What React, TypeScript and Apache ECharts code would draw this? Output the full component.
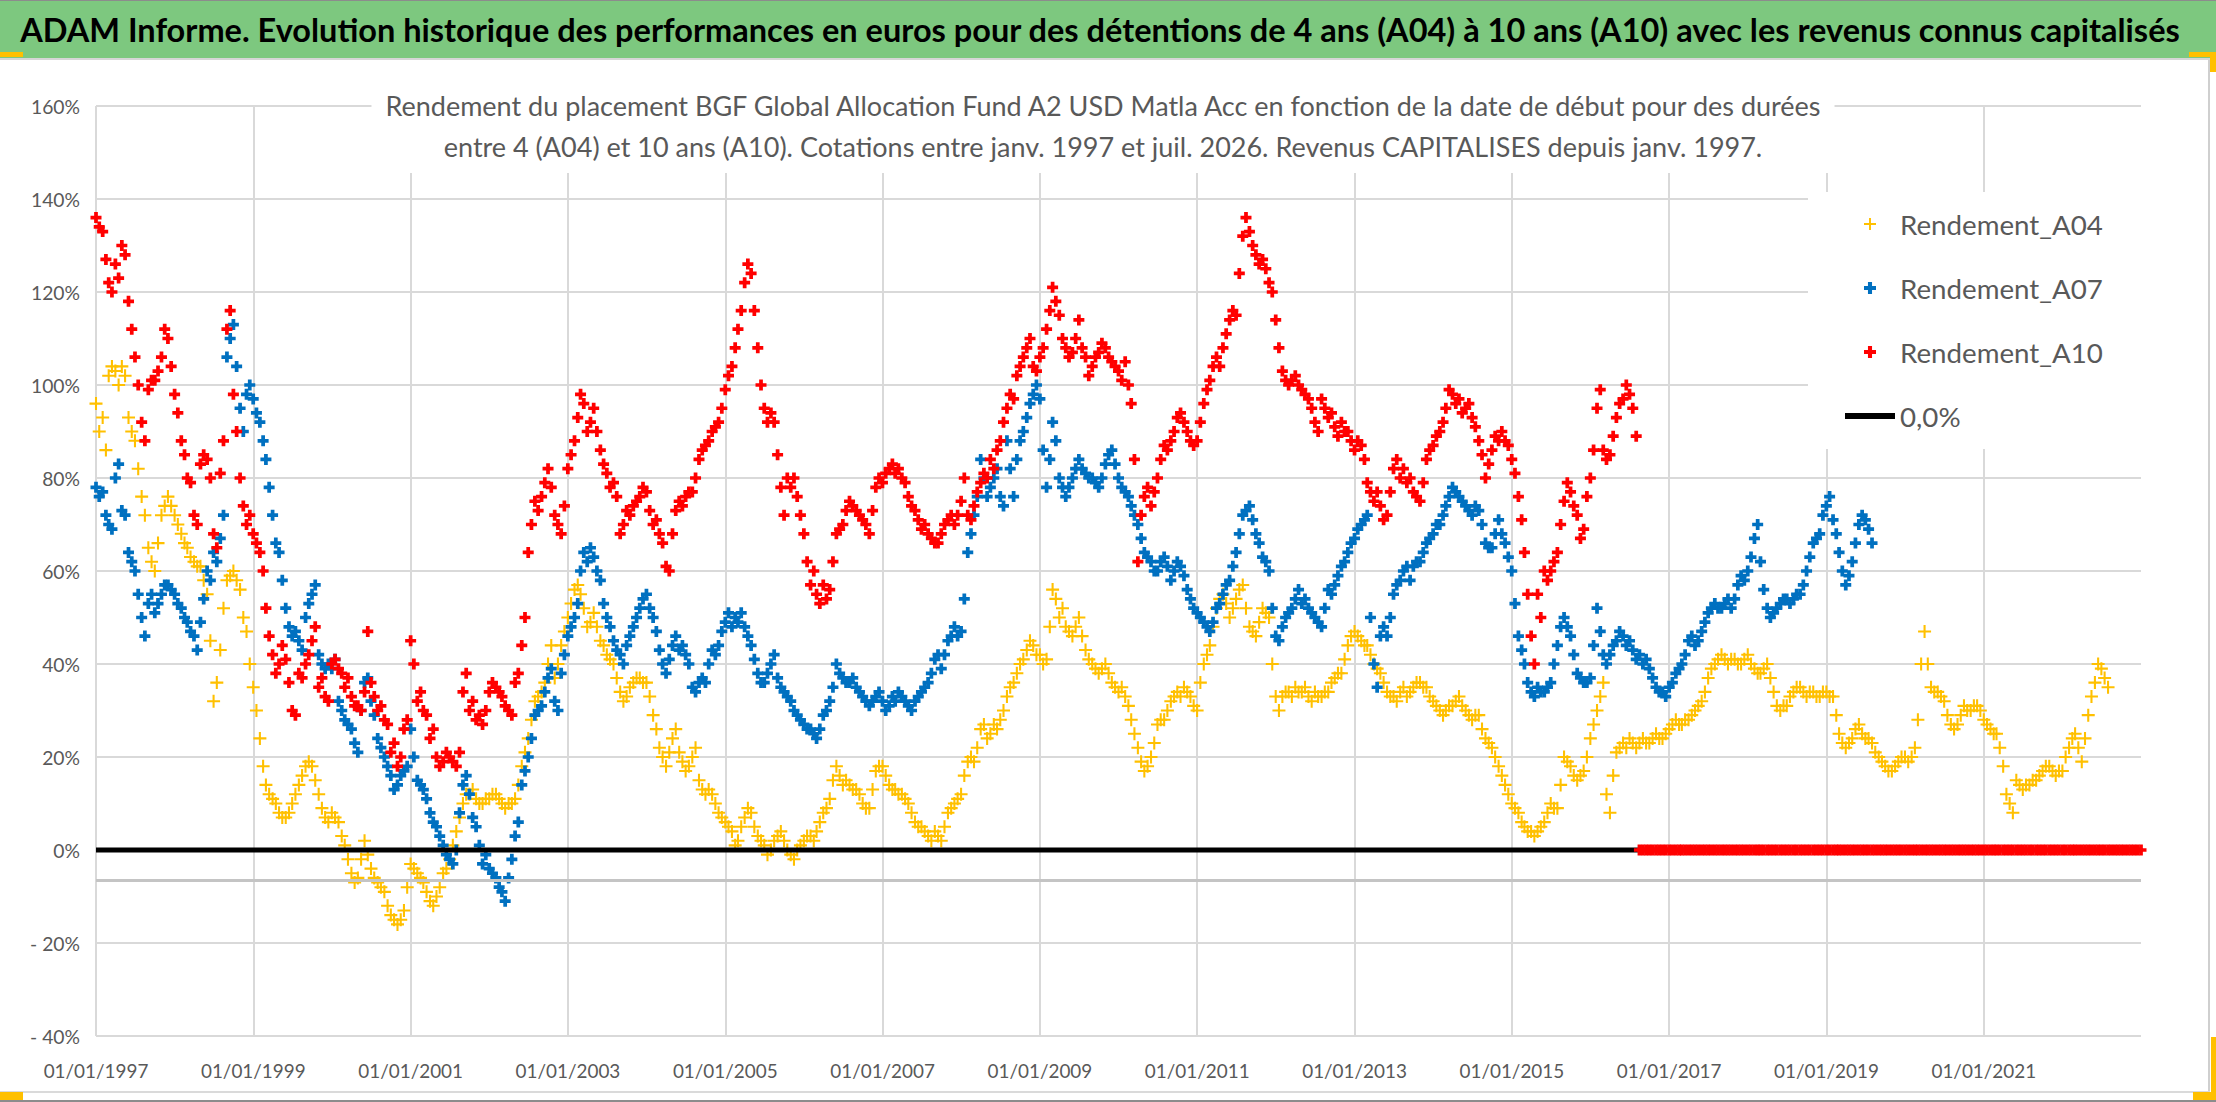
import { useEffect, useRef } from "react";
import * as echarts from "echarts";

const TITLE =
  "ADAM Informe. Evolution historique des performances en euros pour des détentions de 4 ans (A04) à 10 ans (A10) avec les revenus connus capitalisés";
const SUBTITLE_1 =
  "Rendement du placement BGF Global Allocation Fund A2 USD Matla Acc en fonction de la date de début pour des durées";
const SUBTITLE_2 =
  "entre 4 (A04) et 10 ans (A10). Cotations entre janv. 1997 et juil. 2026. Revenus CAPITALISES depuis janv. 1997.";

const NAMES = ["Rendement_A04", "Rendement_A07", "Rendement_A10", "0,0%"];
const COLORS = ["#ffc000", "#0070c0", "#ff0000", "#000000"];

// rendement (%) pour une date de début le 1er et le 16 de chaque mois, à partir de janv. 1997
const A04 = [
  96, 90, 93, 86, 102, 104, 103, 100, 104, 102, 93, 90, 88, 82, 76, 72, 65, 62, 60, 66, 72, 74, 76, 74, // 1997
  72, 70, 68, 66, 65, 63, 62, 61, 61, 58, 55, 45, 32, 36, 43, 52, 58, 59, 60, 58, 56, 50, 47, 40, // 1998
  35, 30, 24, 18, 14, 12, 11, 10, 8, 7, 7, 8, 10, 12, 14, 16, 18, 19, 18, 15, 12, 9, 7, 6, // 1999
  8, 7, 6, 3, 1, -2, -5, -7, -6, -2, 2, -1, -4, -6, -7, -8, -9, -12, -14, -15, -16, -15, -13, -8, // 2000
  -3, -4, -5, -6, -7, -9, -11, -12, -10, -8, -5, -4, -2, 1, 4, 7, 10, 12, 12, 13, 11, 10, 10, 11, // 2001
  11, 12, 12, 11, 10, 9, 10, 10, 11, 14, 18, 21, 24, 28, 32, 33, 34, 36, 40, 44, 37, 40, 44, 47, // 2002
  50, 53, 56, 57, 55, 52, 48, 49, 51, 48, 45, 44, 42, 41, 40, 37, 34, 32, 33, 35, 36, 37, 37, 36, // 2003
  36, 33, 29, 26, 22, 20, 18, 21, 24, 26, 21, 19, 17, 18, 20, 22, 15, 13, 12, 13, 12, 10, 8, 7, // 2004
  6, 5, 4, 1, 2, 5, 7, 9, 8, 5, 3, 2, 1, -1, 0, 2, 3, 4, 2, 0, -1, -2, 0, 1, // 2005
  2, 3, 3, 2, 4, 6, 8, 9, 11, 15, 18, 16, 14, 15, 14, 13, 13, 12, 10, 9, 9, 13, 17, 18, // 2006
  18, 16, 14, 13, 13, 12, 12, 11, 10, 8, 6, 5, 5, 4, 3, 2, 4, 3, 2, 5, 8, 9, 10, 11, // 2007
  12, 16, 19, 20, 19, 22, 26, 27, 24, 25, 27, 26, 28, 30, 33, 35, 36, 38, 40, 41, 43, 45, 44, 42, // 2008
  42, 40, 41, 48, 56, 54, 50, 52, 48, 47, 46, 48, 50, 46, 43, 41, 40, 39, 38, 39, 40, 38, 36, 35, // 2009
  34, 35, 33, 31, 28, 25, 22, 19, 17, 18, 20, 23, 27, 28, 28, 30, 32, 33, 34, 33, 35, 34, 33, 31, // 2010
  30, 36, 40, 42, 44, 48, 52, 54, 55, 53, 50, 52, 54, 56, 57, 52, 48, 47, 46, 49, 52, 51, 50, 40, // 2011
  33, 30, 33, 34, 34, 33, 35, 34, 34, 35, 33, 32, 34, 33, 33, 34, 34, 36, 37, 38, 38, 41, 44, 46, // 2012
  47, 46, 45, 44, 44, 42, 40, 39, 38, 36, 34, 33, 33, 32, 34, 35, 33, 34, 35, 36, 36, 35, 35, 33, // 2013
  32, 31, 30, 29, 30, 31, 31, 32, 33, 31, 30, 29, 28, 29, 29, 26, 24, 23, 22, 20, 18, 16, 14, 12, // 2014
  10, 9, 8, 6, 5, 4, 4, 3, 4, 5, 6, 8, 10, 9, 9, 14, 20, 19, 18, 16, 15, 16, 17, 20, // 2015
  24, 27, 30, 33, 36, 12, 8, 16, 21, 22, 23, 22, 24, 23, 22, 23, 24, 23, 23, 24, 25, 24, 24, 25, // 2016
  26, 27, 28, 27, 27, 28, 28, 29, 30, 31, 32, 34, 37, 39, 40, 41, 42, 41, 40, 41, 41, 40, 40, 41, // 2017
  42, 40, 39, 38, 38, 39, 40, 37, 34, 31, 30, 31, 31, 33, 34, 35, 35, 34, 33, 34, 34, 33, 33, 34, // 2018
  34, 33, 33, 29, 25, 23, 22, 23, 24, 26, 27, 25, 24, 24, 23, 21, 20, 19, 18, 17, 17, 18, 19, 20, // 2019
  20, 19, 20, 22, 28, 40, 47, 40, 35, 34, 34, 33, 32, 29, 27, 26, 27, 29, 31, 30, 30, 31, 31, 30, // 2020
  28, 27, 26, 25, 25, 22, 18, 12, 10, 8, 15, 14, 13, 14, 14, 15, 15, 16, 17, 18, 18, 17, 16, 17, // 2021
  17, 20, 22, 24, 25, 22, 19, 24, 29, 33, 36, 40, 39, 37, 35, // 2022
];

const A07 = [
  78, 76, 77, 72, 70, 69, 80, 83, 73, 72, 64, 62, 60, 55, 50, 46, 53, 55, 51, 53, 55, 57, 57, 56, // 1997
  55, 53, 52, 50, 49, 47, 46, 43, 49, 54, 60, 58, 64, 62, 67, 72, 106, 110, 113, 104, 95, 90, 98, 100, // 1998
  97, 94, 92, 88, 84, 78, 72, 66, 64, 58, 52, 48, 46, 47, 45, 43, 50, 53, 55, 57, 42, 40, 39, 40, // 1999
  39, 41, 32, 30, 28, 27, 26, 23, 21, 30, 36, 37, 32, 29, 24, 22, 20, 18, 16, 13, 14, 16, 17, 18, // 2000
  26, 20, 15, 14, 13, 11, 8, 6, 5, 3, 1, -1, -2, -3, 0, 8, 14, 16, 12, 7, 5, 1, -3, -1, // 2001
  -4, -5, -6, -8, -9, -11, -6, -2, 3, 6, 14, 17, 20, 24, 29, 30, 31, 34, 37, 39, 32, 30, 38, 42, // 2002
  46, 48, 50, 53, 60, 64, 62, 65, 63, 60, 58, 53, 50, 48, 45, 43, 42, 40, 44, 46, 48, 50, 52, 54, // 2003
  55, 52, 50, 47, 43, 40, 38, 41, 44, 46, 43, 44, 42, 40, 35, 34, 36, 37, 36, 40, 43, 42, 44, 47, // 2004
  49, 51, 48, 50, 49, 51, 48, 46, 44, 41, 38, 36, 36, 38, 40, 42, 37, 35, 34, 33, 32, 30, 29, 28, // 2005
  27, 26, 26, 25, 24, 26, 29, 30, 32, 35, 40, 38, 37, 36, 36, 37, 35, 34, 33, 32, 31, 32, 33, 34, // 2006
  32, 30, 31, 33, 32, 34, 33, 32, 31, 30, 32, 33, 34, 35, 36, 38, 41, 42, 39, 42, 45, 46, 48, 46, // 2007
  47, 54, 64, 68, 72, 76, 84, 80, 76, 78, 80, 82, 76, 74, 88, 82, 76, 84, 88, 90, 93, 96, 98, 100, // 2008
  97, 86, 78, 84, 92, 88, 80, 78, 76, 78, 80, 82, 84, 82, 81, 80, 80, 79, 78, 80, 83, 85, 86, 83, // 2009
  80, 78, 77, 76, 74, 72, 70, 67, 64, 63, 62, 60, 60, 62, 63, 61, 58, 60, 62, 61, 59, 56, 54, 52, // 2010
  51, 50, 49, 48, 47, 49, 52, 53, 55, 57, 58, 61, 64, 68, 72, 73, 74, 71, 68, 66, 63, 62, 60, 52, // 2011
  46, 45, 48, 50, 51, 52, 54, 56, 53, 54, 52, 51, 50, 49, 48, 52, 56, 55, 57, 59, 61, 62, 64, 66, // 2012
  67, 69, 70, 71, 72, 50, 40, 35, 46, 48, 46, 50, 55, 57, 58, 60, 61, 58, 61, 62, 62, 64, 66, 67, // 2013
  68, 70, 70, 72, 74, 76, 78, 77, 76, 75, 74, 73, 72, 74, 73, 70, 66, 65, 65, 68, 71, 68, 66, 63, // 2014
  60, 53, 46, 43, 40, 36, 34, 33, 35, 34, 34, 35, 36, 40, 44, 48, 50, 48, 46, 42, 38, 37, 36, 36, // 2015
  37, 44, 52, 47, 42, 40, 42, 44, 45, 47, 46, 44, 45, 43, 41, 42, 40, 41, 39, 37, 35, 34, 34, 33, // 2016
  35, 36, 38, 39, 40, 42, 45, 46, 44, 45, 47, 49, 51, 52, 53, 52, 52, 53, 54, 52, 54, 57, 59, 58, // 2017
  60, 63, 67, 70, 62, 56, 52, 50, 51, 52, 53, 54, 54, 53, 54, 55, 55, 57, 60, 63, 66, 67, 68, 72, // 2018
  74, 76, 71, 68, 64, 60, 57, 59, 62, 66, 70, 72, 71, 69, 66, // 2019
];

const A10 = [
  136, 134, 133, 127, 122, 120, 126, 123, 130, 128, 118, 112, 106, 100, 92, 88, 99, 101, 101, 103, 106, 112, 110, 104, // 1997
  98, 94, 88, 85, 80, 79, 72, 70, 83, 85, 84, 80, 68, 65, 81, 88, 112, 116, 98, 90, 80, 74, 70, 72, // 1998
  68, 66, 64, 60, 52, 46, 42, 38, 40, 44, 41, 36, 30, 29, 38, 37, 40, 42, 45, 48, 35, 37, 33, 32, // 1999
  40, 41, 39, 38, 35, 37, 33, 31, 31, 30, 34, 47, 36, 33, 30, 31, 28, 27, 21, 23, 18, 20, 26, 28, // 2000
  45, 40, 32, 34, 30, 29, 24, 26, 20, 18, 19, 21, 20, 19, 18, 21, 34, 38, 30, 32, 28, 29, 27, 30, // 2001
  34, 36, 35, 34, 33, 31, 30, 29, 36, 38, 44, 50, 64, 70, 75, 73, 76, 79, 82, 78, 72, 70, 68, 74, // 2002
  82, 85, 88, 93, 98, 96, 90, 92, 95, 90, 86, 83, 81, 78, 79, 76, 68, 70, 73, 72, 74, 75, 76, 78, // 2003
  77, 73, 70, 71, 68, 66, 61, 60, 68, 73, 75, 74, 76, 77, 77, 80, 84, 86, 87, 88, 90, 91, 92, 95, // 2004
  99, 102, 104, 108, 112, 116, 122, 126, 124, 116, 108, 100, 95, 92, 94, 92, 85, 78, 72, 80, 78, 80, 76, 72, // 2005
  68, 62, 57, 60, 55, 53, 57, 54, 56, 62, 68, 69, 70, 73, 75, 74, 73, 72, 71, 70, 68, 73, 78, 80, // 2006
  79, 81, 82, 83, 81, 82, 80, 79, 76, 74, 73, 71, 69, 70, 68, 67, 66, 66, 68, 70, 71, 72, 70, 72, // 2007
  75, 80, 72, 71, 74, 77, 79, 81, 80, 84, 82, 86, 88, 92, 95, 98, 97, 102, 104, 106, 108, 110, 104, 103, // 2008
  106, 108, 112, 116, 121, 118, 115, 110, 108, 106, 107, 110, 114, 108, 106, 102, 104, 106, 107, 109, 108, 106, 105, 104, // 2009
  103, 101, 105, 100, 96, 84, 62, 72, 76, 78, 74, 77, 80, 84, 87, 86, 88, 90, 93, 94, 92, 90, 88, 87, // 2010
  88, 92, 96, 99, 101, 104, 106, 104, 108, 111, 114, 116, 115, 124, 132, 136, 133, 130, 128, 126, 127, 125, 122, 120, // 2011
  114, 108, 103, 101, 100, 101, 102, 100, 99, 98, 97, 95, 92, 90, 97, 95, 93, 94, 91, 89, 92, 90, 90, 88, // 2012
  86, 88, 87, 84, 79, 77, 75, 77, 74, 71, 72, 77, 82, 84, 80, 82, 79, 80, 77, 76, 75, 79, 84, 86, // 2013
  87, 89, 90, 92, 95, 99, 98, 96, 97, 94, 95, 96, 93, 91, 88, 85, 80, 83, 86, 89, 88, 90, 88, 87, // 2014
  84, 81, 76, 71, 64, 55, 46, 40, 55, 50, 60, 58, 60, 62, 64, 70, 75, 79, 77, 74, 72, 67, 69, 76, // 2015
  80, 86, 95, 99, 86, 84, 85, 89, 93, 96, 97, 100, 98, 95, 89, 0, 0, 0, 0, 0, 0, 0, 0, 0, // 2016
  0, 0, 0, 0, 0, 0, 0, 0, 0, 0, 0, 0, 0, 0, 0, 0, 0, 0, 0, 0, 0, 0, 0, 0, // 2017
  0, 0, 0, 0, 0, 0, 0, 0, 0, 0, 0, 0, 0, 0, 0, 0, 0, 0, 0, 0, 0, 0, 0, 0, // 2018
  0, 0, 0, 0, 0, 0, 0, 0, 0, 0, 0, 0, 0, 0, 0, 0, 0, 0, 0, 0, 0, 0, 0, 0, // 2019
  0, 0, 0, 0, 0, 0, 0, 0, 0, 0, 0, 0, 0, 0, 0, 0, 0, 0, 0, 0, 0, 0, 0, 0, // 2020
  0, 0, 0, 0, 0, 0, 0, 0, 0, 0, 0, 0, 0, 0, 0, 0, 0, 0, 0, 0, 0, 0, 0, 0, // 2021
  0, 0, 0, 0, 0, 0, 0, 0, 0, 0, 0, 0, 0, 0, 0, 0, 0, 0, 0, 0, 0, 0, 0, 0, // 2022
  0, // 2023
];

const ZERO = [0, 0];
const AXIS_CROSS = -6.6;

const DAY = 86400000;
const ORIGIN = Date.UTC(1997, 0, 1);
const X_MAX = (Date.UTC(2023, 0, 1) - ORIGIN) / DAY;
const X_STEP = 730.5; // 2 ans

const PLUS_BOLD = "path://M3.3,0H6.7V3.3H10V6.7H6.7V10H3.3V6.7H0V3.3H3.3Z";
const PLUS_THIN = "path://M4.2,0H5.8V4.2H10V5.8H5.8V10H4.2V5.8H0V4.2H4.2Z";
const LINE_ICON = "path://M0,0H50V6H0Z";

const FONT = "Lato";
const GREY = "#595959";
const GRID = "#d9d9d9";

// k-ième date de début : le 1er (k pair) ou le 16 (k impair) du mois
const startDay = (k: number) => (Date.UTC(1997, Math.floor(k / 2), k % 2 ? 16 : 1) - ORIGIN) / DAY;
const toPoints = (vals: number[]) => vals.map((v, k) => [startDay(k), v]);

function fmtDate(d: number) {
  const t = new Date(ORIGIN + Math.floor(d + 1e-6) * DAY);
  const dd = String(t.getUTCDate()).padStart(2, "0");
  const mm = String(t.getUTCMonth() + 1).padStart(2, "0");
  return `${dd}/${mm}/${t.getUTCFullYear()}`;
}

// taille de police pour qu'un texte occupe la largeur voulue
function fitSize(text: string, target: number, weight = "normal") {
  const ctx = document.createElement("canvas").getContext("2d");
  if (!ctx) return 20;
  ctx.font = `${weight} 100px ${FONT}`;
  return Math.round(((100 * target) / ctx.measureText(text).width) * 10) / 10;
}

function buildOption(): echarts.EChartsOption {
  const titleSize = fitSize(TITLE, 2160, "bold");
  const subSize = fitSize(SUBTITLE_1, 1440);
  const legendSize = fitSize(NAMES[0], 203);
  const xSize = fitSize("01/01/1997", 105);
  const ySize = fitSize("160%", 49);

  const orange = "#ffc000";

  return {
    animation: false,
    backgroundColor: "#fff",
    textStyle: { fontFamily: FONT },
    title: [
      {
        text: TITLE,
        left: 1100,
        top: 29,
        textAlign: "center",
        textVerticalAlign: "middle",
        padding: 0,
        textStyle: { fontFamily: FONT, fontSize: titleSize, fontWeight: "bold", color: "#000" },
      },
      {
        text: `${SUBTITLE_1}\n${SUBTITLE_2}`,
        left: 1091,
        top: 118,
        textAlign: "center",
        textVerticalAlign: "middle",
        padding: [8, 12, 6, 12],
        backgroundColor: "#fff",
        textStyle: { fontFamily: FONT, fontSize: subSize, lineHeight: 41, fontWeight: "normal", color: GREY },
      },
    ],
    legend: {
      data: [
        { name: NAMES[0], icon: PLUS_THIN },
        { name: NAMES[1], icon: PLUS_BOLD },
        { name: NAMES[2], icon: PLUS_BOLD },
        { name: NAMES[3], icon: LINE_ICON },
      ],
      orient: "vertical",
      left: 1808,
      top: 192,
      padding: [17, 40, 18, 37],
      itemWidth: 50,
      itemHeight: 12,
      itemGap: 34,
      backgroundColor: "#fff",
      selectedMode: false,
      textStyle: { fontFamily: FONT, fontSize: legendSize, lineHeight: 30, color: GREY },
    },
    grid: { left: 96, right: 75, top: 106, bottom: 66, containLabel: false },
    xAxis: {
      type: "value",
      min: 0,
      max: X_MAX,
      interval: X_STEP,
      axisLine: { show: false },
      axisTick: { show: false },
      axisLabel: {
        formatter: (v: number) => fmtDate(v),
        showMaxLabel: false,
        color: GREY,
        fontFamily: FONT,
        fontSize: xSize,
        margin: 25,
      },
      splitLine: { show: true, showMaxLine: false, lineStyle: { color: GRID, width: 2 } },
    },
    yAxis: {
      type: "value",
      min: -40,
      max: 160,
      interval: 20,
      axisLine: { show: false },
      axisTick: { show: false },
      axisLabel: {
        formatter: (v: number) => (v < 0 ? `- ${-v}%` : `${v}%`),
        color: GREY,
        fontFamily: FONT,
        fontSize: ySize,
        margin: 16,
      },
      splitLine: { lineStyle: { color: GRID, width: 2 } },
    },
    graphic: [
      { type: "rect", shape: { x: 0, y: 0, width: 2216, height: 58 }, style: { fill: "#7dc87f" } },
      { type: "rect", shape: { x: 0, y: 0, width: 2216, height: 1 }, style: { fill: "#8c8c8c" } },
      { type: "rect", shape: { x: 0, y: 58, width: 2216, height: 2 }, style: { fill: "#d6d6d6" } },
      { type: "rect", shape: { x: 2208, y: 60, width: 2, height: 1032 }, style: { fill: "#cfcfcf" } },
      { type: "rect", shape: { x: 0, y: 1091, width: 2210, height: 2 }, style: { fill: "#dadada" } },
      { type: "rect", shape: { x: 0, y: 1100, width: 2216, height: 2 }, style: { fill: "#8c8c8c" } },
      { type: "rect", shape: { x: 0, y: 52, width: 23, height: 5 }, style: { fill: orange } },
      { type: "rect", shape: { x: 2189, y: 52, width: 27, height: 5 }, style: { fill: orange } },
      { type: "rect", shape: { x: 2210, y: 52, width: 6, height: 20 }, style: { fill: orange } },
      { type: "rect", shape: { x: 0, y: 1092, width: 23, height: 8 }, style: { fill: orange } },
      { type: "rect", shape: { x: 2211, y: 1037, width: 5, height: 63 }, style: { fill: orange } },
      { type: "rect", shape: { x: 2193, y: 1092, width: 23, height: 8 }, style: { fill: orange } },
    ],
    series: [
      {
        name: NAMES[0],
        type: "scatter",
        z: 2,
        data: toPoints(A04),
        symbol: PLUS_THIN,
        symbolSize: 13,
        color: COLORS[0],
        itemStyle: { color: COLORS[0], opacity: 1 },
        markLine: {
          silent: true,
          symbol: "none",
          label: { show: false },
          lineStyle: { color: "#c4c4c4", width: 3, type: "solid" },
          data: [{ yAxis: AXIS_CROSS }],
        },
      },
      {
        name: NAMES[1],
        type: "scatter",
        z: 2,
        data: toPoints(A07),
        symbol: PLUS_BOLD,
        symbolSize: 11,
        color: COLORS[1],
        itemStyle: { color: COLORS[1], opacity: 1 },
      },
      {
        name: NAMES[3],
        type: "line",
        z: 3,
        data: [
          [0, ZERO[0]],
          [X_MAX, ZERO[1]],
        ],
        symbol: "none",
        color: COLORS[3],
        lineStyle: { color: COLORS[3], width: 5 },
        itemStyle: { color: COLORS[3] },
      },
      {
        name: NAMES[2],
        type: "scatter",
        z: 4,
        data: toPoints(A10),
        symbol: PLUS_BOLD,
        symbolSize: 11,
        color: COLORS[2],
        itemStyle: { color: COLORS[2], opacity: 1 },
      },
    ],
  };
}

export default function App() {
  const chartRef = useRef<HTMLDivElement>(null);

  useEffect(() => {
    if (!chartRef.current) return;
    const chart = echarts.init(chartRef.current, undefined, { renderer: "svg" });
    chart.setOption(buildOption());
    return () => chart.dispose();
  }, []);

  return (
    <div
      ref={chartRef}
      style={{ position: "fixed", left: 0, top: 0, width: 2216, height: 1102, background: "#fff" }}
    />
  );
}
